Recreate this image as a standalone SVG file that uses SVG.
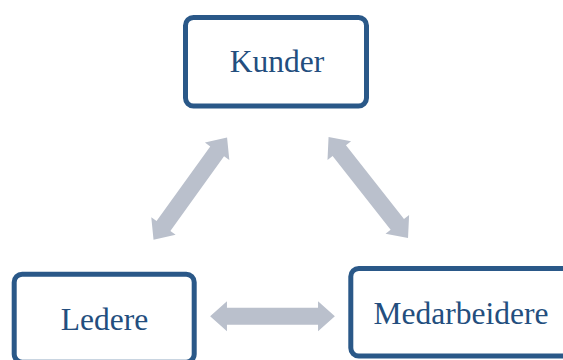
<svg xmlns="http://www.w3.org/2000/svg" xmlns:xlink="http://www.w3.org/1999/xlink" width="563" height="360" viewBox="0 0 563 360">
<style>
.box{fill:#ffffff;stroke:#2A5888;stroke-width:5}
.lbl{font-family:"Liberation Serif","Times New Roman",serif;font-size:31.5px;fill:#234E7E;text-anchor:middle}
.arr{fill:#BAC0CC}
</style>
<defs>
<path id="dbl" d="M-63,0 L-46,-15 L-46,-8.5 L46,-8.5 L46,-15 L63,0 L46,15 L46,8.5 L-46,8.5 L-46,15 Z"/>
</defs>
<rect width="563" height="360" fill="#ffffff"/>
<g id="connectors" class="arr">
<use xlink:href="#dbl" transform="translate(190.3,188.7) rotate(-54.3)"/>
<use xlink:href="#dbl" transform="translate(368.3,187.5) rotate(51.8) scale(1.02,1)"/>
<use xlink:href="#dbl" transform="translate(272.5,316.2) scale(0.99,1)"/>
</g>
<g id="kunder">
<rect class="box" x="185.5" y="17.5" width="181" height="88.5" rx="8"/>
<text class="lbl" x="277" y="72">Kunder</text>
</g>
<g id="ledere">
<rect class="box" x="14.2" y="274.2" width="180" height="88" rx="8"/>
<text class="lbl" x="104.5" y="330">Ledere</text>
</g>
<g id="medarbeidere">
<rect class="box" x="350.8" y="268.5" width="222" height="87.5" rx="8"/>
<text class="lbl" x="461" y="324.3">Medarbeidere</text>
</g>
</svg>
